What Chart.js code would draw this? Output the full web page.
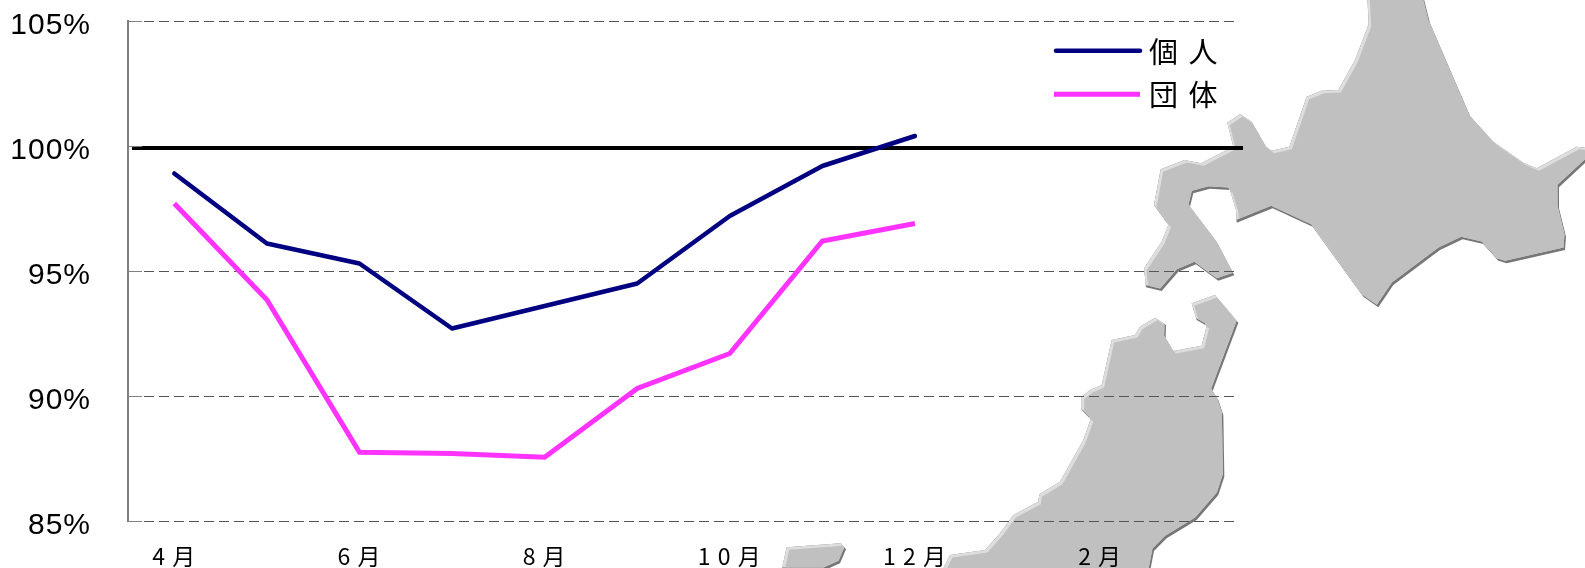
<!DOCTYPE html>
<html><head><meta charset="utf-8">
<script src="https://cdn.jsdelivr.net/npm/chart.js@4"></script>
<style>html,body{margin:0;padding:0;background:#fff}canvas{display:block}</style>
</head><body><canvas id="c" width="1585" height="568"></canvas>
<script>
const categories = ['4 月','5 月','6 月','7 月','8 月','9 月','1 0 月','1 1 月','1 2 月','1 月','2 月','3 月'];
const kojin = [98.9,96.1,95.3,92.7,93.6,94.5,97.2,99.2,100.4,null,null,null];
const dantai = [97.7,93.85,87.75,87.7,87.55,90.3,91.7,96.2,96.9,null,null,null];
const seriesNames = ['個 人','団 体'];
const refX = [0.043,12.043];
const refY = [99.92,99.92];
const yTicks = [85,90,95,100,105];

// Decorative map outlines, traced in crop pixels (origin + px/3)
const hokkaido = {ox:1140,oy:0,p:[682,-10,686,72,645,180,595,270,545,272,500,290,448,440,395,452,378,440,335,365,300,342,262,368,280,440,183,490,133,480,62,508,42,615,85,675,65,725,12,805,18,862,65,873,115,815,168,793,235,842,283,826,230,725,150,620,160,580,210,566,270,570,288,630,290,668,398,625,518,680,670,890,715,922,760,855,900,750,968,718,1030,732,1075,782,1100,790,1275,750,1278,710,1257,625,1257,562,1345,480,1345,445,1310,440,1190,505,1150,488,1060,425,990,348,870,70,850,-10]};
const honshu = {ox:1000,oy:285,p:[575,55,645,30,715,113,638,318,655,345,670,390,673,575,655,630,590,705,500,760,462,798,450,860,-175,860,-150,810,-45,795,0,745,40,690,115,650,118,628,180,590,250,465,272,403,245,375,245,335,270,315,305,300,335,165,405,150,420,125,465,98,498,120,497,160,520,198,605,182,620,122,590,105]};
const sado = {ox:770,oy:500,p:[50,142,212,130,228,148,210,190,165,210,35,210]};
const mapShapes = [hokkaido,honshu,sado];

function tracePoly(ctx,s,dx,dy){
  ctx.beginPath();
  for(let i=0;i<s.p.length;i+=2){
    const x=s.ox+s.p[i]/3+dx,y=s.oy+s.p[i+1]/3+dy;
    i?ctx.lineTo(x,y):ctx.moveTo(x,y);
  }
  ctx.closePath();
}
const mapPlugin = {
  id:'mapBackdrop',
  beforeDraw(chart){
    const ctx=chart.ctx;
    ctx.letterSpacing='1px';
    ctx.save();
    ctx.fillStyle='#fff';ctx.fillRect(0,0,chart.width,chart.height);
    for(const s of mapShapes){
      ctx.fillStyle='#777777';tracePoly(ctx,s,0,0);ctx.fill();
      ctx.save();tracePoly(ctx,s,0,0);ctx.clip();
      ctx.fillStyle='#DDDDDD';tracePoly(ctx,s,-1.5,-2.5);ctx.fill();
      tracePoly(ctx,s,-1.5,-2.5);ctx.clip();
      ctx.fillStyle='#C0C0C0';tracePoly(ctx,s,2.5,2.5);ctx.fill();
      ctx.restore();
    }
    ctx.restore();
  }
};
const decoPlugin = {
  id:'deco',
  afterDatasetsDraw(chart){
    const ctx=chart.ctx,y=chart.scales.y,a=chart.chartArea;ctx.save();
    // short inner ticks
    ctx.strokeStyle='#808080';ctx.lineWidth=1;
    for(const v of yTicks){const py=Math.round(y.getPixelForValue(v))+0.5;
      ctx.beginPath();ctx.moveTo(a.left,py);ctx.lineTo(a.left+14,py);ctx.stroke();}
    // legend
    const cols=[chart.data.datasets[0].borderColor,chart.data.datasets[1].borderColor];
    const rows=[50.7,94.3];
    rows.forEach((ry,i)=>{
      ctx.strokeStyle=cols[i];ctx.lineWidth=i?5:4.5;ctx.lineCap=i?'butt':'round';
      ctx.beginPath();ctx.moveTo(i?1054:1056,ry);ctx.lineTo(1140,ry);ctx.stroke();
      ctx.fillStyle='#000';ctx.font='29px "Noto Sans CJK JP"';ctx.textBaseline='middle';ctx.textAlign='left';
      ctx.letterSpacing='2px';
      ctx.fillText(seriesNames[i],1149,ry+1);
    });
    ctx.restore();
    ctx.letterSpacing='1px';
  }
};
new Chart(document.getElementById('c'),{
  type:'line',
  data:{labels:categories,datasets:[
    {label:'個人',data:kojin,borderColor:'#000080',borderWidth:4.5,pointRadius:0,tension:0,spanGaps:false,borderCapStyle:'round',borderJoinStyle:'round'},
    {label:'団体',data:dantai,borderColor:'#FF33FF',borderWidth:5,pointRadius:0,tension:0,spanGaps:false},
    {label:'100%',data:refX.map((x,i)=>({x,y:refY[i]})),xAxisID:'x2',borderColor:'#000',borderWidth:4,pointRadius:0,clip:false}
  ]},
  options:{
    responsive:false,animation:false,devicePixelRatio:1,
    layout:{padding:{top:21,right:346,left:0,bottom:0}},
    plugins:{legend:{display:false},tooltip:{enabled:false}},
    scales:{
      x:{type:'category',offset:true,grid:{display:false},border:{display:false},
        afterFit(s){s.height=47;s.paddingLeft=0;s.paddingRight=0;},
        ticks:{autoSkip:false,maxRotation:0,minRotation:0,padding:13,color:'#000',
          font:{family:'"Liberation Sans Narrow","Noto Sans CJK JP"',size:23},
          callback(v,i){return i%2===0?this.getLabelForValue(v):'';}}},
      x2:{type:'linear',display:false,min:0,max:12},
      y:{min:85,max:105,
        afterFit(s){s.width=128;s.paddingTop=0;s.paddingBottom=0;},
        grid:{color:'#555555',lineWidth:1,drawTicks:false},
        border:{display:true,color:'#808080',width:2,dash:[10,5]},
        afterBuildTicks(s){s.ticks=yTicks.map(value=>({value}));},
        ticks:{padding:37,color:'#000',labelOffset:5,
          font:{family:'"Liberation Sans"',size:30},
          callback:v=>v+'%'}}
    }
  },
  plugins:[mapPlugin,decoPlugin]
});
</script></body></html>
